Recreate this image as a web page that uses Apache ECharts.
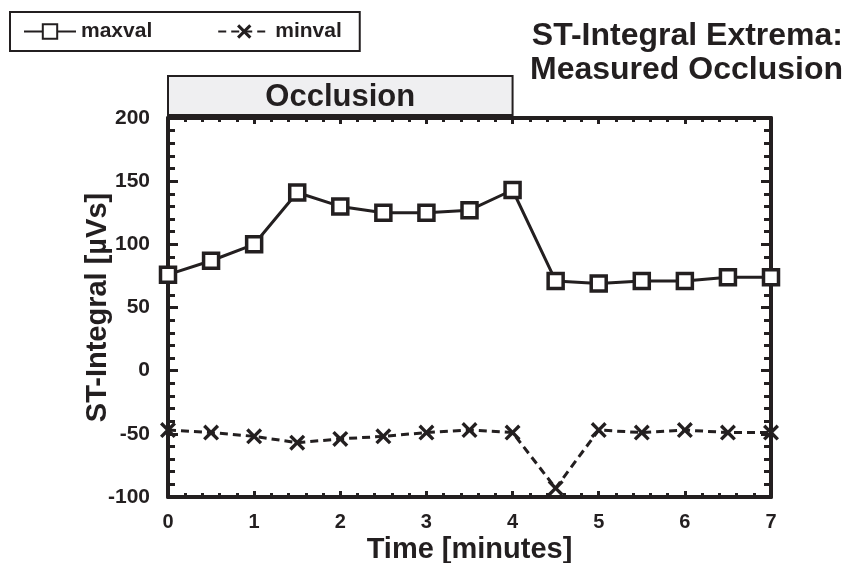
<!DOCTYPE html>
<html>
<head>
<meta charset="utf-8">
<script src="https://cdn.jsdelivr.net/npm/echarts@6/dist/echarts.min.js"></script>
<style>
  html, body { margin: 0; padding: 0; background: #fff; }
  #main { width: 846px; height: 563px; }
</style>
</head>
<body>
<div id="main"></div>
<script>
// data
var times = [0, 0.5, 1, 1.5, 2, 2.5, 3, 3.5, 4, 4.5, 5, 5.5, 6, 6.5, 7];
var maxval = [76, 87, 100, 141, 130, 125, 125, 127, 143, 71, 69, 71, 71, 74, 74];
var minval = [-47, -49, -52, -57, -54, -52, -49, -47, -49, -93, -47, -49, -47, -49, -49];
var occlusion = [0, 4]; // minutes

var ink = '#231f20';
var font = 'Liberation Sans, Arial, sans-serif';

function pairs(ys) {
  return times.map(function (t, i) { return [t, ys[i]]; });
}

var chart = echarts.init(document.getElementById('main'));

// shared look of the frame axes
function xAx(pos, withLabels) {
  return {
    type: 'value', position: pos, min: 0, max: 7, interval: 1,
    name: withLabels ? 'Time [minutes]' : '',
    nameLocation: 'middle', nameGap: 38, nameMoveOverlap: false,
    nameTextStyle: { color: ink, fontFamily: font, fontWeight: 'bold', fontSize: 29 },
    axisLine: { show: true, onZero: false, lineStyle: { color: ink, width: 4 } },
    axisTick: { show: true, inside: true, length: 6, lineStyle: { color: ink, width: 3 } },
    minorTick: { show: true, splitNumber: 5, length: 4, lineStyle: { color: ink, width: 3 } },
    axisLabel: { show: withLabels, margin: 15, color: ink, fontFamily: font, fontWeight: 'bold', fontSize: 20 },
    splitLine: { show: false }
  };
}
function yAx(pos, withLabels) {
  return {
    type: 'value', position: pos, min: -100, max: 200, interval: 50,
    name: withLabels ? 'ST-Integral [µVs]' : '',
    nameLocation: 'middle', nameGap: 56, nameMoveOverlap: false,
    nameTextStyle: { color: ink, fontFamily: font, fontWeight: 'bold', fontSize: 29 },
    axisLine: { show: true, onZero: false, lineStyle: { color: ink, width: 4 } },
    axisTick: { show: true, inside: true, length: 10, lineStyle: { color: ink, width: 3 } },
    minorTick: { show: true, splitNumber: 5, length: 7, lineStyle: { color: ink, width: 3 } },
    axisLabel: {
      show: withLabels, margin: 18, padding: [6, 0, 0, 0],
      color: ink, fontFamily: font, fontWeight: 'bold', fontSize: 21
    },
    splitLine: { show: false }
  };
}

var crossPath = 'path://M0,1.5L1.5,0L5,3.5L8.5,0L10,1.5L6.5,5L10,8.5L8.5,10L5,6.5L1.5,10L0,8.5L3.5,5Z';

var option = {
  animation: false,
  backgroundColor: '#fff',
  grid: { left: 168, right: 75, top: 118, bottom: 66, outerBoundsMode: 'none' },
  legend: {
    left: 10, top: 12,
    padding: [9, 18, 9, 13],
    borderColor: ink, borderWidth: 2,
    itemWidth: 52, itemHeight: 18, itemGap: 65,
    textStyle: { color: ink, fontFamily: font, fontWeight: 'bold', fontSize: 21 },
    data: ['maxval', 'minval']
  },
  xAxis: [xAx('bottom', true), xAx('top', false)],
  yAxis: [yAx('left', true), yAx('right', false)],
  series: [
    {
      name: 'maxval', type: 'line', data: pairs(maxval),
      symbol: 'rect', symbolSize: 15,
      lineStyle: { color: ink, width: 3 },
      itemStyle: { color: '#fff', borderColor: ink, borderWidth: 3.5 }
    },
    {
      name: 'minval', type: 'line', data: pairs(minval),
      symbol: crossPath, symbolSize: 16,
      lineStyle: { color: ink, width: 3, type: [8, 5] },
      itemStyle: { color: ink }
    }
  ]
};

chart.setOption(option);

// "Occlusion" banner above the plot, spanning the occlusion period
var x0 = chart.convertToPixel({ xAxisIndex: 0 }, occlusion[0]);
var x1 = chart.convertToPixel({ xAxisIndex: 0 }, occlusion[1]);
chart.setOption({
  graphic: [
    {
      type: 'text', z: 11,
      x: 843, y: 19,
      style: {
        text: 'ST-Integral Extrema:\nMeasured Occlusion', fill: ink,
        font: 'bold 32px ' + font, lineHeight: 34,
        textAlign: 'right', textVerticalAlign: 'top'
      }
    },
    {
      type: 'rect', z: 10,
      shape: { x: x0, y: 76, width: x1 - x0, height: 39 },
      style: { fill: '#efeff1', stroke: ink, lineWidth: 2 }
    },
    {
      type: 'text', z: 11,
      x: (x0 + x1) / 2, y: 97,
      style: {
        text: 'Occlusion', fill: ink, font: 'bold 31px ' + font,
        textAlign: 'center', textVerticalAlign: 'middle'
      }
    }
  ]
});
</script>
</body>
</html>
